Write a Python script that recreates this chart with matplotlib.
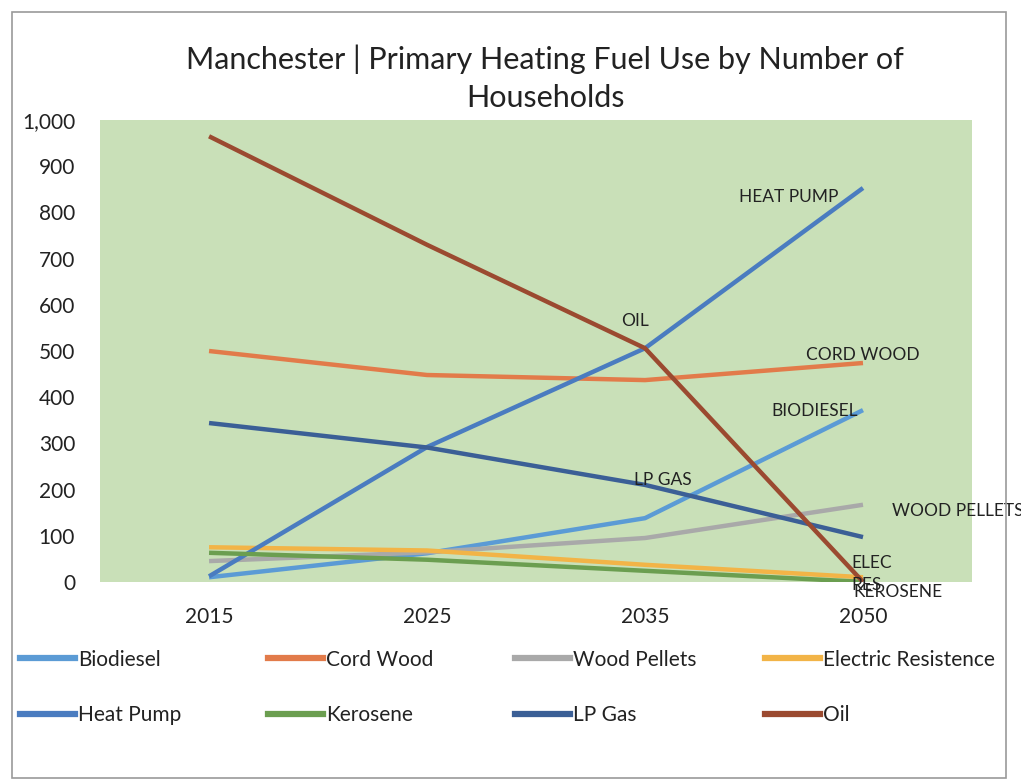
import matplotlib
matplotlib.use("Agg")
import matplotlib.pyplot as plt
from matplotlib.lines import Line2D
from matplotlib.patches import Rectangle
from matplotlib.ticker import FuncFormatter

plt.rcParams['font.family'] = ['Lato', 'DejaVu Sans']

years = ['2015', '2025', '2035', '2050']
series_names = ['Biodiesel', 'Cord Wood', 'Wood Pellets', 'Electric Resistence',
                'Heat Pump', 'Kerosene', 'LP Gas', 'Oil']
biodiesel = [10, 62, 138, 372]
cord_wood = [500, 448, 437, 474]
wood_pellets = [45, 64, 95, 167]
electric = [75, 68, 37, 10]
heat_pump = [12, 292, 506, 853]
kerosene = [63, 48, 24, 0]
lp_gas = [344, 291, 210, 97]
oil = [965, 730, 506, 0]
end_labels = ['BIODIESEL', 'CORD WOOD', 'WOOD PELLETS', 'ELEC', 'RES',
              'HEAT PUMP', 'KEROSENE', 'LP GAS', 'OIL']

colors = ['#5b9bd5', '#e27b4a', '#a9a9a9', '#f2b447',
          '#4a7cc0', '#6b9e50', '#3b5f96', '#9b4a30']
values = [biodiesel, cord_wood, wood_pellets, electric,
          heat_pump, kerosene, lp_gas, oil]

fig = plt.figure(figsize=(10.21, 7.8), dpi=100)
ax = fig.add_axes([0.098, 0.254, 0.854, 0.592])
ax.set_facecolor('#c9e0b8')

x = list(range(len(years)))
for i in range(len(values)):
    ax.plot(x, values[i], color=colors[i], lw=3.2, solid_capstyle='butt', zorder=2 + i)

ax.set_xlim(-0.5, 3.5)
ax.set_ylim(0, 1000)
ax.set_yticks(range(0, 1001, 100))
ax.yaxis.set_major_formatter(FuncFormatter(lambda v, p: f'{int(v):,}'))
ax.set_xticks(x)
ax.set_xticklabels(years)
ax.tick_params(length=0, labelsize=15, colors='#222222')
ax.tick_params(axis='x', pad=18)
ax.tick_params(axis='y', pad=18)
for s in ax.spines.values():
    s.set_visible(False)

# data labels (positions in category / value units)
lab = dict(fontsize=12.5, color='#222222', zorder=20, va='center')
ax.text(2.885, 833, end_labels[5], ha='right', **lab)
ax.text(1.955, 564, end_labels[8], ha='center', **lab)
ax.text(3.0, 492, end_labels[1], ha='center', **lab)
ax.text(2.977, 369, end_labels[0], ha='right', **lab)
ax.text(2.083, 221, end_labels[7], ha='center', **lab)
ax.text(3.133, 154, end_labels[2], ha='left', clip_on=False, **lab)
ax.text(2.945, 41, end_labels[3], ha='left', **lab)
ax.text(2.945, -7, end_labels[4], ha='left', clip_on=False, **lab)
ax.text(2.954, -22, end_labels[6], ha='left', clip_on=False, **lab)

fig.text(0.534, 0.924, 'Manchester | Primary Heating Fuel Use by Number of',
         ha='center', va='center', fontsize=22, color='#222222')
fig.text(0.534, 0.874, 'Households', ha='center', va='center', fontsize=22, color='#222222')

# legend: four columns of two entries, row-major order as in the chart
col_x = [0.0196, 0.262, 0.504, 0.749]
for c in range(4):
    idx = [c, c + 4]
    hs = [Line2D([0], [0], color=colors[i], lw=4.5) for i in idx]
    leg = fig.legend(hs, [series_names[i] for i in idx], loc='center left',
                     bbox_to_anchor=(col_x[c], 0.1186), frameon=False, fontsize=15,
                     handlelength=2.65, handletextpad=0.15, labelspacing=1.72,
                     borderpad=0, borderaxespad=0, labelcolor='#222222')

fig.patches.append(Rectangle((0.012, 0.003), 0.973, 0.982, transform=fig.transFigure,
                             fill=False, edgecolor='#9a9a9a', lw=1.2))

fig.savefig('out.png', dpi=100)
